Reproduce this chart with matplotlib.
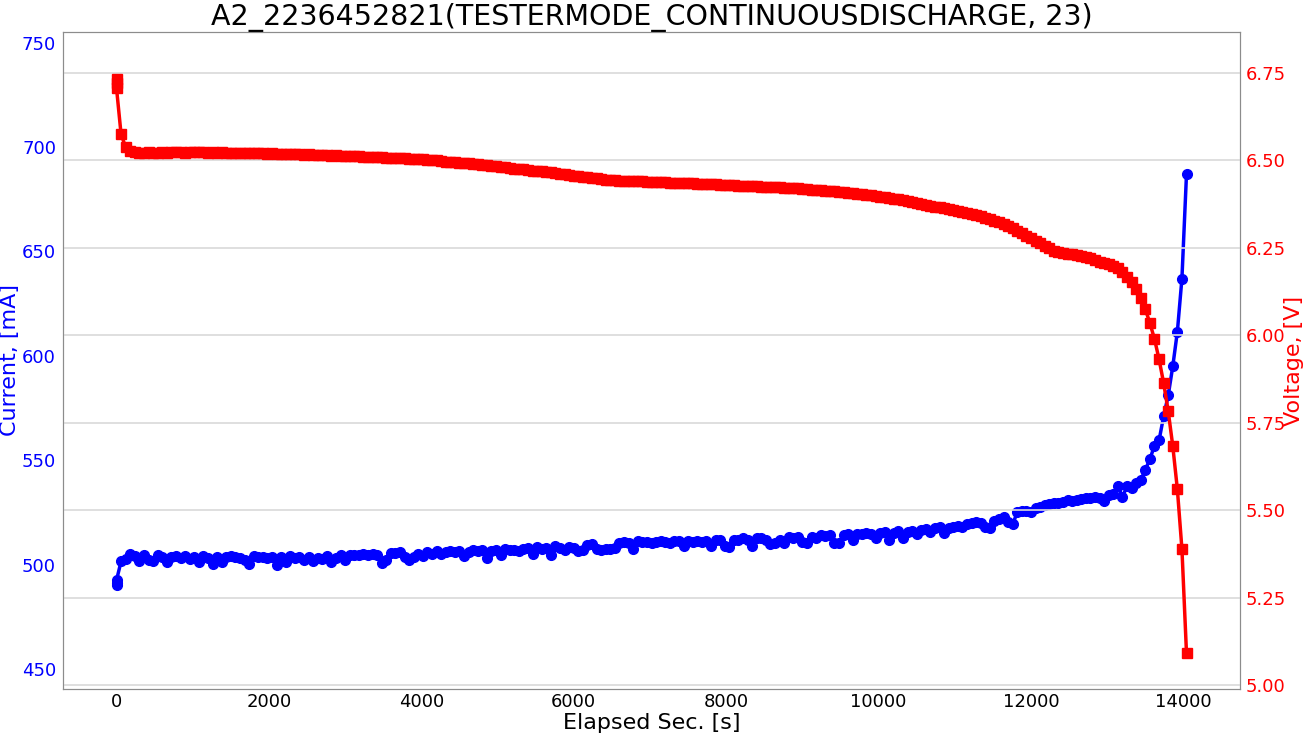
import matplotlib
matplotlib.use("Agg")
import matplotlib.pyplot as plt

title = "A2_2236452821(TESTERMODE_CONTINUOUSDISCHARGE, 23)"
x_label = "Elapsed Sec. [s]"
y1_label = "Current, [mA]"
y2_label = "Voltage, [V]"

elapsed = [0, 0, 0,
    60, 120, 180, 240, 300, 360, 420, 480, 540, 600,
    660, 720, 780, 840, 900, 960, 1020, 1080, 1140, 1200,
    1260, 1320, 1380, 1440, 1500, 1560, 1620, 1680, 1740, 1800,
    1860, 1920, 1980, 2040, 2100, 2160, 2220, 2280, 2340, 2400,
    2460, 2520, 2580, 2640, 2700, 2760, 2820, 2880, 2940, 3000,
    3060, 3120, 3180, 3240, 3300, 3360, 3420, 3480, 3540, 3600,
    3660, 3720, 3780, 3840, 3900, 3960, 4020, 4080, 4140, 4200,
    4260, 4320, 4380, 4440, 4500, 4560, 4620, 4680, 4740, 4800,
    4860, 4920, 4980, 5040, 5100, 5160, 5220, 5280, 5340, 5400,
    5460, 5520, 5580, 5640, 5700, 5760, 5820, 5880, 5940, 6000,
    6060, 6120, 6180, 6240, 6300, 6360, 6420, 6480, 6540, 6600,
    6660, 6720, 6780, 6840, 6900, 6960, 7020, 7080, 7140, 7200,
    7260, 7320, 7380, 7440, 7500, 7560, 7620, 7680, 7740, 7800,
    7860, 7920, 7980, 8040, 8100, 8160, 8220, 8280, 8340, 8400,
    8460, 8520, 8580, 8640, 8700, 8760, 8820, 8880, 8940, 9000,
    9060, 9120, 9180, 9240, 9300, 9360, 9420, 9480, 9540, 9600,
    9660, 9720, 9780, 9840, 9900, 9960, 10020, 10080, 10140, 10200,
    10260, 10320, 10380, 10440, 10500, 10560, 10620, 10680, 10740, 10800,
    10860, 10920, 10980, 11040, 11100, 11160, 11220, 11280, 11340, 11400,
    11460, 11520, 11580, 11640, 11700, 11760, 11820, 11880, 11940, 12000,
    12060, 12120, 12180, 12240, 12300, 12360, 12420, 12480, 12540, 12600,
    12660, 12720, 12780, 12840, 12900, 12960, 13020, 13080, 13140, 13200,
    13260, 13320, 13380, 13440, 13500, 13560, 13620, 13680, 13740, 13800,
    13860, 13920, 13980, 14040]

current_ma = [490.0, 491.0, 492.5,
    501.5, 502.5, 505.0, 504.0, 501.5, 504.5, 502.0, 501.5, 504.5, 503.5,
    501.0, 503.5, 504.0, 503.0, 504.0, 502.5, 503.5, 501.0, 504.0, 503.0,
    500.5, 503.5, 501.0, 503.5, 504.0, 503.5, 503.0, 502.0, 500.5, 504.0,
    503.5, 503.5, 503.0, 503.5, 500.0, 503.5, 501.0, 504.0, 503.0, 503.5,
    502.0, 503.5, 501.5, 503.0, 502.5, 504.0, 501.0, 503.0, 504.5, 502.0,
    504.5, 504.5, 504.5, 505.0, 504.5, 505.0, 504.5, 500.8, 502.0, 505.5,
    505.5, 506.0, 503.5, 502.0, 503.5, 505.0, 504.0, 506.0, 505.0, 506.5,
    505.0, 506.0, 506.5, 506.0, 506.5, 504.0, 506.0, 507.0, 506.5, 507.0,
    503.0, 506.5, 507.0, 504.5, 507.5, 507.0, 507.0, 506.5, 507.5, 508.0,
    505.0, 508.5, 507.5, 508.0, 504.5, 509.0, 508.0, 507.0, 508.5, 508.0,
    506.5, 507.0, 509.5, 510.0, 507.5, 507.0, 507.5, 507.5, 508.0, 510.5,
    511.0, 510.5, 507.5, 511.5, 511.0, 511.0, 510.5, 511.0, 511.5, 511.0,
    510.5, 511.5, 511.5, 509.0, 511.5, 511.0, 511.5, 511.0, 511.5, 509.0,
    512.0, 512.0, 509.0, 508.5, 512.0, 512.0, 512.5, 512.0, 509.0, 512.5,
    512.5, 512.0, 510.0, 510.5, 512.0, 510.5, 513.0, 512.5, 513.0, 511.0,
    510.5, 513.0, 512.5, 514.0, 513.5, 514.0, 510.5, 510.5, 514.0, 514.5,
    512.0, 514.5, 514.5, 515.0, 514.5, 512.5, 515.0, 515.5, 512.0, 515.0,
    516.0, 512.5, 515.5, 516.0, 514.5, 516.5, 517.0, 515.5, 517.5, 518.0,
    515.0, 517.5, 518.0, 518.5, 518.0, 519.5, 520.0, 520.5, 520.0, 518.0,
    517.5, 521.0, 522.0, 523.0, 520.5, 519.5, 525.0, 525.5, 525.5, 525.0,
    527.0, 527.5, 528.5, 529.0, 529.5, 529.5, 530.0, 531.0, 530.5, 531.0,
    531.5, 532.0, 532.0, 532.5, 532.0, 530.5, 533.5, 534.0, 537.5, 532.5,
    537.5, 536.5, 539.0, 540.5, 545.5, 550.5, 557.0, 559.5, 571.0, 581.0,
    595.0, 611.5, 637.0, 687.0]

voltage_v = [6.731, 6.720, 6.706,
    6.574, 6.537, 6.526, 6.522, 6.520, 6.521, 6.522, 6.520, 6.521, 6.522,
    6.521, 6.522, 6.523, 6.522, 6.521, 6.523, 6.522, 6.523, 6.522, 6.521,
    6.522, 6.521, 6.522, 6.521, 6.520, 6.521, 6.520, 6.521, 6.520, 6.519,
    6.520, 6.519, 6.518, 6.519, 6.518, 6.517, 6.518, 6.517, 6.518, 6.517,
    6.516, 6.517, 6.516, 6.515, 6.516, 6.514, 6.513, 6.514, 6.513, 6.512,
    6.512, 6.511, 6.511, 6.510, 6.510, 6.509, 6.508, 6.509, 6.507, 6.507,
    6.506, 6.505, 6.505, 6.504, 6.503, 6.502, 6.502, 6.500, 6.500, 6.499,
    6.497, 6.496, 6.495, 6.495, 6.493, 6.492, 6.491, 6.489, 6.488, 6.487,
    6.486, 6.484, 6.482, 6.481, 6.479, 6.478, 6.476, 6.475, 6.474, 6.472,
    6.470, 6.469, 6.468, 6.466, 6.465, 6.463, 6.461, 6.460, 6.458, 6.456,
    6.455, 6.453, 6.451, 6.450, 6.448, 6.446, 6.443, 6.442, 6.442, 6.441,
    6.441, 6.440, 6.440, 6.439, 6.439, 6.438, 6.438, 6.437, 6.438, 6.437,
    6.436, 6.436, 6.435, 6.435, 6.434, 6.434, 6.433, 6.433, 6.432, 6.431,
    6.431, 6.430, 6.430, 6.429, 6.429, 6.427, 6.427, 6.426, 6.426, 6.425,
    6.424, 6.424, 6.423, 6.422, 6.422, 6.421, 6.420, 6.419, 6.419, 6.418,
    6.417, 6.416, 6.415, 6.414, 6.413, 6.412, 6.411, 6.409, 6.408, 6.406,
    6.405, 6.404, 6.403, 6.401, 6.399, 6.398, 6.396, 6.394, 6.392, 6.390,
    6.388, 6.386, 6.384, 6.381, 6.378, 6.375, 6.372, 6.369, 6.367, 6.365,
    6.362, 6.359, 6.357, 6.354, 6.352, 6.349, 6.346, 6.342, 6.339, 6.336,
    6.331, 6.327, 6.323, 6.318, 6.312, 6.305, 6.298, 6.291, 6.284, 6.277,
    6.270, 6.262, 6.255, 6.248, 6.241, 6.237, 6.235, 6.233, 6.231, 6.229,
    6.226, 6.224, 6.221, 6.215, 6.210, 6.205, 6.202, 6.198, 6.191, 6.181,
    6.167, 6.152, 6.133, 6.107, 6.074, 6.034, 5.989, 5.931, 5.863, 5.783,
    5.683, 5.560, 5.389, 5.091]

x_ticks = [0, 2000, 4000, 6000, 8000, 10000, 12000, 14000]
y1_ticks = [450, 500, 550, 600, 650, 700, 750]
y2_ticks = [5.00, 5.25, 5.50, 5.75, 6.00, 6.25, 6.50, 6.75]

fig = plt.figure(figsize=(13.08, 7.37), dpi=100)
ax1 = fig.add_axes([63/1308, 1 - 689/737, (1240 - 63)/1308, (689 - 32)/737])
ax2 = ax1.twinx()

ax1.plot(elapsed, current_ma, color="blue", marker="o", markersize=7,
         linewidth=2.5, zorder=3)
ax2.plot(elapsed, voltage_v, color="red", marker="s", markersize=6.5,
         linewidth=2.5, zorder=3)

ax1.set_ylim(440.4, 755.1)
ax2.set_ylim(4.989, 6.866)
ax1.set_xticks(x_ticks)
ax1.set_yticks(y1_ticks)
ax2.set_yticks(y2_ticks)
ax1.set_xticklabels([str(v) for v in x_ticks])

ax2.grid(True, axis="y", color="#d9d9d9", linewidth=1.2)
ax2.set_axisbelow(True)

ax1.set_title(title, fontsize=20.5, pad=5)
ax1.set_xlabel(x_label, fontsize=16, labelpad=1)
ax1.set_ylabel(y1_label, fontsize=16, color="blue")
ax2.set_ylabel(y2_label, fontsize=16, color="red")
ax1.yaxis.set_label_coords(-0.0365, 0.5)
ax2.yaxis.set_label_coords(1.037, 0.5)

ax1.tick_params(axis="x", labelsize=13, colors="black", length=0, pad=3)
ax1.tick_params(axis="y", labelsize=13, labelcolor="blue", length=0, pad=5)
ax2.tick_params(axis="y", labelsize=13, labelcolor="red", length=0, pad=4)
for ax in (ax1, ax2):
    for s in ax.spines.values():
        s.set_color("#8c8c8c")
ax2.set_yticklabels(["%.2f" % v for v in y2_ticks])

fig.savefig("out.png", dpi=100)
